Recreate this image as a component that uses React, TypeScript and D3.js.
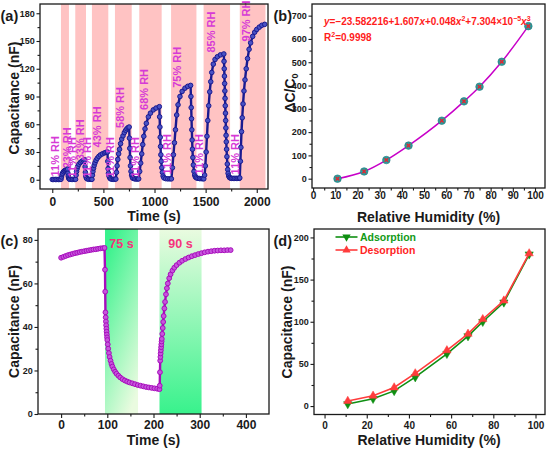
import * as d3 from 'd3';
import React from 'react';
import { useRef, useEffect } from 'react';

type Pt = [number, number];

const FONT = '"Liberation Sans", Arial, Helvetica, sans-serif';

// ---------- (a) humidity cycling, time (s) / capacitance (nF) ----------
const humidBandsA: Pt[] = [
  [85, 163], [225, 330], [388, 548], [613, 777],
  [851, 1070], [1162, 1410], [1480, 1739], [1834, 2085],
];
const hold11A: Pt[] = [[0, 0.3], [15, 0.3], [30, 0.3], [45, 0.3], [60, 0.3], [75, 0.3]];
const step23A: Pt[] = [
  [85, 0.5], [90, 3], [95, 5.5], [100, 7], [110, 8.7], [120, 9.8], [130, 10.5], [140, 11], [150, 11.5],
  [153, 7], [156, 4], [160, 2], [165, 1], [170, 0.5], [185, 0.4], [200, 0.4], [215, 0.4],
];
const step33A: Pt[] = [
  [228, 0.5], [233, 5], [238, 9], [243, 12], [250, 14.5], [260, 16.8], [275, 18.7], [290, 20], [305, 21], [318, 21.5],
  [321, 14], [324, 8], [328, 4], [333, 2], [340, 1], [355, 0.5], [370, 0.5], [382, 0.5],
];
const step43A: Pt[] = [
  [388, 0.5], [393, 5], [398, 9], [404, 12.5], [410, 15.5], [418, 18.3], [428, 21], [440, 23.2], [455, 25.2],
  [470, 26.8], [490, 28], [510, 29], [525, 29.6], [540, 30],
  [543, 20], [546, 12], [550, 7], [555, 4], [562, 2], [570, 1], [585, 0.5], [600, 0.5], [612, 0.6],
];
const step58A: Pt[] = [
  [622, 0.8], [628, 8], [634, 15], [641, 22], [649, 28], [658, 33], [668, 39], [679, 44], [692, 47.5],
  [705, 51], [718, 53.5], [730, 55.2], [742, 56.4], [752, 57],
  [755, 45], [758, 34], [761, 24], [765, 15], [770, 9], [776, 5], [783, 2.5], [790, 1.5],
  [805, 1], [820, 0.8], [835, 0.8],
];
const step68A: Pt[] = [
  [845, 1], [855, 9], [865, 18], [875, 28], [885, 38], [895, 47], [907, 55], [920, 61], [940, 68],
  [960, 72], [988, 75.5], [1015, 77.5], [1047, 79],
  [1050, 68], [1053, 57], [1056, 46], [1059, 36], [1062, 27], [1066, 20], [1071, 13], [1077, 8],
  [1084, 4], [1092, 2], [1110, 1.2], [1130, 1], [1150, 1],
];
const step75A: Pt[] = [
  [1165, 1], [1175, 13], [1185, 27], [1195, 40], [1205, 54], [1217, 70], [1230, 81], [1249, 90],
  [1270, 95.5], [1298, 99], [1325, 101], [1353, 102],
  [1356, 90], [1359, 78], [1362, 66], [1365, 54], [1368, 43], [1371, 33], [1375, 24], [1380, 16],
  [1386, 9], [1393, 5], [1400, 3], [1410, 2], [1425, 1.5], [1440, 1.3], [1455, 1.2], [1470, 1.2],
];
const step85A: Pt[] = [
  [1482, 1], [1490, 5], [1497, 15], [1505, 30], [1513, 47], [1521, 64], [1530, 80], [1540, 95],
  [1550, 106], [1560, 116], [1575, 125], [1592, 130], [1615, 133], [1645, 135], [1678, 136],
  [1680, 128], [1682, 120], [1684, 112], [1686, 104], [1688, 96], [1690, 88], [1692, 80], [1694, 72],
  [1696, 64], [1698, 56], [1700, 48], [1702, 41], [1705, 33], [1708, 25], [1712, 17], [1716, 11],
  [1720, 7], [1726, 4], [1733, 2.5], [1742, 1.8], [1755, 1.5], [1770, 1.5], [1785, 1.5], [1800, 1.5],
  [1815, 1.5], [1828, 1.5],
];
const step97A: Pt[] = [
  [1834, 2], [1840, 20], [1845, 35], [1851, 52], [1858, 67], [1866, 82], [1875, 96], [1885, 108],
  [1897, 120], [1910, 131], [1925, 141], [1940, 148], [1960, 155], [1980, 159.5], [2000, 162.5],
  [2025, 165], [2050, 167], [2078, 168],
];
const curveA: Pt[] = [
  ...hold11A, ...step23A, ...step33A, ...step43A, ...step58A, ...step68A, ...step75A, ...step85A, ...step97A,
];
const rhLabelText = [
  '11% RH', '23% RH', '11% RH', '33% RH', '11% RH', '43% RH', '11% RH', '58% RH',
  '11% RH', '68% RH', '11% RH', '75% RH', '11% RH', '85% RH', '11% RH', '97% RH',
];
const rhLabelTime = [26, 141, 190, 271, 337, 434, 565, 662, 809, 897, 1119, 1217, 1435, 1550, 1788, 1895];
const rhLabelCap = [3.6, 12.3, 2.5, 21, 2.5, 35, 2.5, 56, 2.5, 75.5, 5.8, 99.4, 5.8, 137.5, 5.8, 149.5];

// ---------- (b) response vs RH ----------
const rhB = [11, 23, 33, 43, 58, 68, 75, 85, 97];
const responseB = [0, 31, 80, 142, 249, 332, 395, 502, 655];

// ---------- (c) response / recovery ----------
const bandsC: Pt[] = [[95, 166.5], [213, 304]];
const bandTextC = ['75 s', '90 s'];
const plateauC: Pt[] = [
  [0, 71.8], [5, 72.2], [10, 72.6], [15, 73], [20, 73.3], [25, 73.6], [30, 73.9], [35, 74.1], [40, 74.4],
  [45, 74.6], [50, 74.8], [55, 75], [60, 75.2], [65, 75.4], [70, 75.6], [75, 75.7], [80, 75.9], [85, 76.1],
  [90, 76.2], [94, 76.3],
];
const desorbC: Pt[] = [
  [95, 66.3], [95.5, 56.2], [96, 46.7], [96.5, 44.4], [97, 42.5], [97.5, 40.8], [98, 39.2], [98.5, 37.8],
  [99, 36.5], [99.5, 35.2], [100, 34], [101, 32], [102, 30], [103.5, 28], [105, 26.2], [107, 24.5],
  [109, 23], [111, 21.8], [114, 20.5], [117, 19.4], [120, 18.5], [124, 17.6], [128, 16.8], [133, 16],
  [138, 15.4], [143, 14.9], [148, 14.5], [154, 14.1], [160, 13.7], [166, 13.3], [172, 13], [178, 12.7],
  [184, 12.4], [190, 12.2], [196, 12], [202, 11.8], [208, 11.6], [213, 11.4],
];
const adsorbC: Pt[] = [
  [213.5, 13], [214, 19.2], [214.5, 24.5], [215, 26.2], [215.5, 27.8], [216, 29.3], [216.5, 30.7],
  [217, 32], [217.5, 33.3], [218, 34.5], [219, 36.8], [220, 39.5], [221, 42.3], [222, 45], [223.5, 48.5],
  [225, 51.5], [227, 55], [229, 57.8], [231, 60], [234, 62.4], [237, 64.2], [241, 65.9], [245, 67.2],
  [250, 68.4], [256, 69.5], [262, 70.4], [269, 71.2], [276, 71.9], [283, 72.5], [290, 73], [297, 73.5],
  [304, 73.9], [311, 74.3], [318, 74.6], [325, 74.8], [332, 75], [339, 75.1], [346, 75.2], [353, 75.2],
  [360, 75.3], [367, 75.3],
];
const curveC: Pt[] = [...plateauC, ...desorbC, ...adsorbC];

// ---------- (d) hysteresis ----------
const rhD = [11, 23, 33, 43, 58, 68, 75, 85, 97];
const adsorptionD = [2.4, 8.7, 18, 34.3, 62, 83, 100, 123, 180];
const desorptionD = [6, 12.2, 22, 38.7, 66, 85.6, 103, 125, 181];

interface AxisSpec {
  x: d3.ScaleLinear<number, number>;
  y: d3.ScaleLinear<number, number>;
  xTicks: number[];
  xMinor: number[];
  yTicks: number[];
  yMinor: number[];
  xFont: number;
  xBaseline: number;
}

const INK = '#1a1a1a';
const Y_TICK_FONT = 9;
const PANEL_FONT = 14.5;

function frameAxes(svg: any, s: AxisSpec) {
  const [left, right] = s.x.range();
  const [bottom, top] = s.y.range();
  const style = (g: any, size: number) => {
    g.attr('color', INK).attr('font-family', FONT).attr('font-weight', 'bold').attr('font-size', size);
    g.select('.domain').remove();
    g.selectAll('line').attr('stroke-width', 1.1);
  };
  svg.append('g').attr('transform', `translate(0,${bottom})`)
    .call(d3.axisBottom(s.x).tickValues(s.xMinor).tickSize(2.5).tickFormat(() => ''))
    .call((g: any) => style(g, s.xFont));
  svg.append('g').attr('transform', `translate(0,${bottom})`)
    .call(d3.axisBottom(s.x).tickValues(s.xTicks).tickSize(4).tickFormat(d3.format('d')))
    .call((g: any) => {
      style(g, s.xFont);
      g.selectAll('text').attr('y', s.xBaseline - bottom).attr('dy', null);
    });
  svg.append('g').attr('transform', `translate(${left},0)`)
    .call(d3.axisLeft(s.y).tickValues(s.yMinor).tickSize(2.5).tickFormat(() => ''))
    .call((g: any) => style(g, Y_TICK_FONT));
  svg.append('g').attr('transform', `translate(${left},0)`)
    .call(d3.axisLeft(s.y).tickValues(s.yTicks).tickSize(3.5).tickPadding(1.8).tickFormat(d3.format('d')))
    .call((g: any) => style(g, Y_TICK_FONT));
  svg.append('rect')
    .attr('x', left).attr('y', top)
    .attr('width', right - left).attr('height', bottom - top)
    .attr('fill', 'none').attr('stroke', INK).attr('stroke-width', 1.3);
}

function text(svg: any, x: number, y: number, s: string, size: number, anchor = 'middle', fill = INK) {
  return svg.append('text')
    .attr('x', x).attr('y', y)
    .attr('text-anchor', anchor)
    .attr('font-family', FONT).attr('font-weight', 'bold')
    .attr('font-size', size).attr('fill', fill)
    .text(s);
}

function vtext(svg: any, cx: number, cy: number, s: string, size: number) {
  return svg.append('text')
    .attr('transform', `translate(${cx},${cy}) rotate(-90)`)
    .attr('text-anchor', 'middle').attr('dy', '0.35em')
    .attr('font-family', FONT).attr('font-weight', 'bold')
    .attr('font-size', size).attr('fill', INK)
    .text(s);
}

export default function App() {
  const svgRef = useRef<SVGSVGElement | null>(null);

  useEffect(() => {
    if (!svgRef.current) return;
    const svg = d3.select(svgRef.current);
    svg.selectAll('*').remove();
    const defs = svg.append('defs');

    // ===== (a) =====
    const xA = d3.scaleLinear().domain([-120, 2110]).range([40, 268]);
    const yA = d3.scaleLinear().domain([-10, 190]).range([189, 4]);
    svg.append('g').selectAll('rect').data(humidBandsA).join('rect')
      .attr('x', (d) => xA(d[0])).attr('width', (d) => xA(d[1]) - xA(d[0]))
      .attr('y', yA.range()[1]).attr('height', yA.range()[0] - yA.range()[1])
      .attr('fill', '#ffc3c3');
    const lineA = d3.line<Pt>().x((d) => xA(d[0])).y((d) => yA(d[1]));
    svg.append('path').attr('d', lineA(curveA)).attr('fill', 'none')
      .attr('stroke', '#1a1a90').attr('stroke-width', 2.4);
    svg.append('g').selectAll('circle').data(curveA).join('circle')
      .attr('cx', (d) => xA(d[0])).attr('cy', (d) => yA(d[1])).attr('r', 2.3)
      .attr('fill', '#4a52c4').attr('stroke', '#1a1a90').attr('stroke-width', 1);
    svg.append('g').selectAll('text').data(rhLabelText).join('text')
      .attr('transform', (_d, i) => `translate(${xA(rhLabelTime[i])},${yA(rhLabelCap[i])}) rotate(-90)`)
      .attr('dy', '0.35em')
      .attr('font-family', FONT).attr('font-weight', 'bold').attr('font-size', 11)
      .attr('fill', '#d63ad6')
      .text((d) => d);
    frameAxes(svg, {
      x: xA, y: yA,
      xTicks: [0, 500, 1000, 1500, 2000], xMinor: [250, 750, 1250, 1750],
      yTicks: d3.range(0, 181, 30), yMinor: d3.range(15, 181, 30),
      xFont: 12, xBaseline: 206,
    });
    text(svg, 0.5, 21, '(a)', PANEL_FONT, 'start');
    vtext(svg, 14, 98, 'Capacitance (nF)', 14);
    text(svg, 154, 221, 'Time (s)', 14);

    // ===== (b) =====
    const xB = d3.scaleLinear().domain([-0.5, 104.5]).range([312, 545]);
    const yB = d3.scaleLinear().domain([-40, 750]).range([188, 4]);
    const ptsB: Pt[] = rhB.map((v, i) => [v, responseB[i]]);
    const lineB = d3.line<Pt>().x((d) => xB(d[0])).y((d) => yB(d[1])).curve(d3.curveMonotoneX);
    svg.append('path').attr('d', lineB(ptsB)).attr('fill', 'none')
      .attr('stroke', '#c800c8').attr('stroke-width', 1.5);
    const mB = svg.append('g').selectAll('g').data(ptsB).join('g')
      .attr('transform', (d) => `translate(${xB(d[0])},${yB(d[1])})`);
    mB.append('circle').attr('r', 3.8).attr('fill', '#2c9c9c').attr('stroke', '#1e7a7c').attr('stroke-width', 0.6);
    mB.append('path').attr('d', 'M-1.8,-1.8L1.8,1.8M-1.8,1.8L1.8,-1.8')
      .attr('stroke', '#e8222e').attr('stroke-width', 1.3);
    frameAxes(svg, {
      x: xB, y: yB,
      xTicks: d3.range(0, 101, 10), xMinor: d3.range(5, 101, 10),
      yTicks: d3.range(0, 701, 100), yMinor: d3.range(50, 701, 100),
      xFont: 10, xBaseline: 198.5,
    });
    text(svg, 273.5, 21, '(b)', PANEL_FONT, 'start');
    const dc = svg.append('text')
      .attr('transform', 'translate(290,93) rotate(-90)')
      .attr('text-anchor', 'middle').attr('dy', '0.35em')
      .attr('font-family', FONT).attr('font-weight', 'bold').attr('font-size', 14).attr('fill', INK);
    dc.append('tspan').text('ΔC/C');
    dc.append('tspan').attr('font-size', 9).attr('dy', 3).text('0');
    text(svg, 428.5, 221.5, 'Relative Humidity (%)', 14);
    const red = '#ff1c1c';
    const eq = svg.append('text').attr('x', 324).attr('y', 25)
      .attr('font-family', FONT).attr('font-weight', 'bold').attr('font-size', 10).attr('fill', red);
    const parts: [string, string][] = [
      ['y', 'i'], ['=−23.582216+1.607', 'n'], ['x', 'i'], ['+0.048', 'n'], ['x', 'i'], ['2', 's'],
      ['+7.304×10', 'n'], ['−5', 's'], ['x', 'i'], ['3', 's'],
    ];
    let raised = false;
    parts.forEach(([s, kind]) => {
      const t = eq.append('tspan').text(s);
      if (kind === 'i') t.attr('font-style', 'italic');
      if (kind === 's') {
        t.attr('font-size', 7);
        if (!raised) t.attr('dy', -4);
        raised = true;
      } else if (raised) {
        t.attr('dy', 4);
        raised = false;
      }
    });
    const r2 = svg.append('text').attr('x', 324).attr('y', 41)
      .attr('font-family', FONT).attr('font-weight', 'bold').attr('font-size', 10).attr('fill', red);
    r2.append('tspan').text('R');
    r2.append('tspan').attr('font-size', 7).attr('dy', -4).text('2');
    r2.append('tspan').attr('dy', 4).text('=0.9998');

    // ===== (c) =====
    const xC = d3.scaleLinear().domain([-50, 450]).range([38, 269]);
    const yC = d3.scaleLinear().domain([0, 85]).range([414, 229]);
    const g1 = defs.append('linearGradient').attr('id', 'gc0')
      .attr('x1', 0.25).attr('y1', 0).attr('x2', 0.75).attr('y2', 1);
    g1.append('stop').attr('offset', 0).attr('stop-color', '#38f28c');
    g1.append('stop').attr('offset', 1).attr('stop-color', '#eafbe0');
    const g2 = defs.append('linearGradient').attr('id', 'gc1')
      .attr('x1', 0.5).attr('y1', 0).attr('x2', 0.5).attr('y2', 1);
    g2.append('stop').attr('offset', 0).attr('stop-color', '#eafbe0');
    g2.append('stop').attr('offset', 1).attr('stop-color', '#38f28c');
    svg.append('g').selectAll('rect').data(bandsC).join('rect')
      .attr('x', (d) => xC(d[0])).attr('width', (d) => xC(d[1]) - xC(d[0]))
      .attr('y', yC.range()[1]).attr('height', yC.range()[0] - yC.range()[1])
      .attr('fill', (_d, i) => `url(#gc${i})`);
    svg.append('g').selectAll('text').data(bandsC).join('text')
      .attr('x', (d) => xC((d[0] + d[1]) / 2)).attr('y', 248)
      .attr('text-anchor', 'middle')
      .attr('font-family', FONT).attr('font-weight', 'bold').attr('font-size', 12.5)
      .attr('fill', '#f5337d')
      .text((_d, i) => bandTextC[i]);
    const lineC = d3.line<Pt>().x((d) => xC(d[0])).y((d) => yC(d[1]));
    svg.append('path').attr('d', lineC(curveC)).attr('fill', 'none')
      .attr('stroke', '#a80cbc').attr('stroke-width', 2.4);
    svg.append('g').selectAll('circle').data(curveC).join('circle')
      .attr('cx', (d) => xC(d[0])).attr('cy', (d) => yC(d[1])).attr('r', 2.4)
      .attr('fill', '#c656dc').attr('stroke', '#a80cbc').attr('stroke-width', 1);
    frameAxes(svg, {
      x: xC, y: yC,
      xTicks: [0, 100, 200, 300, 400], xMinor: [50, 150, 250, 350],
      yTicks: d3.range(0, 81, 20), yMinor: d3.range(10, 81, 20),
      xFont: 12, xBaseline: 429,
    });
    text(svg, 0.5, 246, '(c)', PANEL_FONT, 'start');
    vtext(svg, 14, 321.5, 'Capacitance (nF)', 14);
    text(svg, 153.5, 445, 'Time (s)', 14);

    // ===== (d) =====
    const xD = d3.scaleLinear().domain([-5, 104.5]).range([314, 545]);
    const yD = d3.scaleLinear().domain([-10, 210]).range([414.5, 229]);
    const green = '#0f8f12';
    const red2 = '#ff3c3c';
    const series = [
      { vals: adsorptionD, color: green, rot: 180 },
      { vals: desorptionD, color: red2, rot: 0 },
    ];
    const tri = d3.symbol().type(d3.symbolTriangle).size(30)();
    series.forEach((s) => {
      const pts: Pt[] = rhD.map((v, i) => [v, s.vals[i]]);
      const line = d3.line<Pt>().x((d) => xD(d[0])).y((d) => yD(d[1]));
      svg.append('path').attr('d', line(pts)).attr('fill', 'none')
        .attr('stroke', s.color).attr('stroke-width', 1.6);
      svg.append('g').selectAll('path').data(pts).join('path')
        .attr('d', tri)
        .attr('transform', (d) => `translate(${xD(d[0])},${yD(d[1])}) rotate(${s.rot})`)
        .attr('fill', s.color).attr('stroke', s.color).attr('stroke-width', 0.5);
    });
    const legend = [
      { label: 'Adsorption', color: green, rot: 180, y: 237 },
      { label: 'Desorption', color: red2, rot: 0, y: 250 },
    ];
    legend.forEach((l) => {
      svg.append('line').attr('x1', 335.5).attr('x2', 357.5).attr('y1', l.y).attr('y2', l.y)
        .attr('stroke', l.color).attr('stroke-width', 1.6);
      svg.append('path').attr('d', tri)
        .attr('transform', `translate(346.5,${l.y}) rotate(${l.rot})`).attr('fill', l.color);
      text(svg, 360, l.y + 3.8, l.label, 10.5, 'start', l.color === green ? '#129a16' : '#ff2424');
    });
    frameAxes(svg, {
      x: xD, y: yD,
      xTicks: d3.range(0, 101, 20), xMinor: d3.range(10, 101, 20),
      yTicks: d3.range(0, 201, 50), yMinor: d3.range(25, 201, 50),
      xFont: 10, xBaseline: 429,
    });
    text(svg, 273.5, 246, '(d)', PANEL_FONT, 'start');
    vtext(svg, 287, 322, 'Capacitance (nF)', 14);
    text(svg, 429, 445, 'Relative Humidity (%)', 14);
  }, []);

  return (
    <div style={{ position: 'absolute', left: 0, top: 0 }}>
      <svg ref={svgRef} width={550} height={451} style={{ display: 'block', background: '#fff' }} />
    </div>
  );
}
